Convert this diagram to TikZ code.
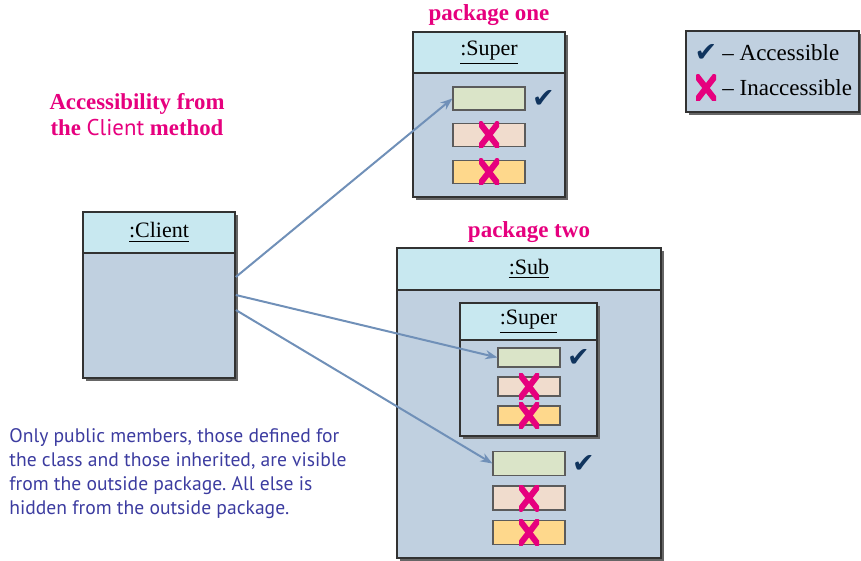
\documentclass[tikz,border=0pt]{standalone}
\usepackage{fontspec}
\setmainfont{Liberation Serif}
\newfontfamily\titleserif{Liberation Serif}
\newfontfamily\notesans{PT Sans}
\newfontfamily\symfont{DejaVu Sans}
\definecolor{umlhead}{RGB}{200,232,240}
\definecolor{umlbody}{RGB}{192,208,224}
\definecolor{umlframe}{RGB}{50,50,50}
\definecolor{mbgreen}{RGB}{218,228,200}
\definecolor{mbpink}{RGB}{240,220,205}
\definecolor{mborange}{RGB}{254,216,140}
\definecolor{accmagenta}{RGB}{230,0,126}
\definecolor{accnavy}{RGB}{16,52,94}
\definecolor{linkblue}{RGB}{112,144,184}
\definecolor{noteblue}{RGB}{60,60,160}
\usetikzlibrary{arrows.meta,positioning,shadows}
\frenchspacing

\begin{document}
\begin{tikzpicture}[x=0.5pt,y=-0.5pt,
  frame/.style={draw=umlframe,line width=0.8pt,fill=umlbody,inner sep=0pt,
    drop shadow={shadow xshift=1.5pt,shadow yshift=-1.5pt,fill=black!60,opacity=1}},
  header/.style={draw=umlframe,line width=0.8pt,fill=umlhead,inner sep=0pt,anchor=north,
    font=\fontsize{11}{13}\selectfont},
  member/.style={draw=umlframe!80,line width=0.6pt,inner sep=0pt},
  pkgtitle/.style={font=\titleserif\bfseries\fontsize{11.5}{13}\selectfont,text=accmagenta},
  link/.style={draw=linkblue,line width=1pt,-{Stealth[length=6pt,width=4.5pt]}},
  okmark/.style={font=\symfont\fontsize{13.5}{15}\selectfont,text=accnavy,inner sep=0pt},
  nogo/.style={minimum width=10pt,minimum height=13pt,inner sep=0pt,
    path picture={\draw[accmagenta,line width=3pt]
      (path picture bounding box.south west) -- (path picture bounding box.north east)
      (path picture bounding box.north west) -- (path picture bounding box.south east);}}
]
  \useasboundingbox (0,0) rectangle (861,561);

  % titles and note
  \node[pkgtitle] (pkgone) at (489,15) {package one};
  \node[pkgtitle] (pkgtwo) at (529,232) {package two};
  \node[pkgtitle,align=center,font=\titleserif\bfseries\fontsize{11.4}{13}\selectfont] (caption) at (137,115)
    {Accessibility from\\the {\notesans\mdseries Client} method};
  \node[anchor=north west,align=left,text=noteblue,inner sep=0pt,
    font=\notesans\fontsize{9.8}{12}\selectfont] (note) at (9,428)
    {Only public members, those defined for\\the class and those inherited, are visible\\from the outside package. All else is\\hidden from the outside package.};

  % client
  \node[frame,minimum width=76pt,minimum height=83pt] (client) at (159,295) {};
  \node[header,minimum width=76pt,minimum height=20.5pt] (clienthead) at (client.north) {\underline{:Client}};

  % package one
  \node[frame,minimum width=76pt,minimum height=82.5pt] (super) at (489,114.5) {};
  \node[header,minimum width=76pt,minimum height=20.5pt] (superhead) at (super.north) {\underline{:Super}};
  \node[member,fill=mbgreen,minimum width=36pt,minimum height=11.5pt] (s1a) at (489,98.5) {};
  \node[member,fill=mbpink,minimum width=36pt,minimum height=11.5pt] (s1b) at (489,135) {};
  \node[member,fill=mborange,minimum width=36pt,minimum height=11.5pt] (s1c) at (489,172) {};
  \node[okmark,right=3pt of s1a] (s1ok) {✔};
  \node[nogo] (s1bx) at (s1b) {};
  \node[nogo] (s1cx) at (s1c) {};

  % package two
  \node[frame,minimum width=132pt,minimum height=155pt] (sub) at (529,403) {};
  \node[header,minimum width=132pt,minimum height=21pt] (subhead) at (sub.north) {\underline{:Sub}};
  \node[frame,minimum width=68.5pt,minimum height=66.5pt] (inner) at (528.5,369.5) {};
  \node[header,minimum width=68.5pt,minimum height=18.5pt] (innerhead) at (inner.north) {\underline{:Super}};
  \node[member,fill=mbgreen,minimum width=31pt,minimum height=9.5pt] (t1a) at (529,357.5) {};
  \node[member,fill=mbpink,minimum width=31pt,minimum height=9.5pt] (t1b) at (529,386.5) {};
  \node[member,fill=mborange,minimum width=31pt,minimum height=9.5pt] (t1c) at (529,415.5) {};
  \node[okmark,right=3pt of t1a] (t1ok) {✔};
  \node[nogo] (t1bx) at (t1b) {};
  \node[nogo] (t1cx) at (t1c) {};
  \node[member,fill=mbgreen,minimum width=36pt,minimum height=12pt] (u1a) at (529,463.5) {};
  \node[member,fill=mbpink,minimum width=36pt,minimum height=12pt] (u1b) at (529,498) {};
  \node[member,fill=mborange,minimum width=36pt,minimum height=12pt] (u1c) at (529,532.5) {};
  \node[okmark,right=3pt of u1a] (u1ok) {✔};
  \node[nogo] (u1bx) at (u1b) {};
  \node[nogo] (u1cx) at (u1c) {};

  % legend
  \node[frame,minimum width=86.5pt,minimum height=40.5pt] (legend) at (772.5,71.5) {};
  \node[okmark] (legok) at (706,53) {✔};
  \node[nogo] (legno) at (706,88) {};
  \node[anchor=west,inner sep=0pt,font=\fontsize{11.5}{13}\selectfont] (legoktext) at (722,53) {– Accessible};
  \node[anchor=west,inner sep=0pt,font=\fontsize{11.5}{13}\selectfont] (legnotext) at (722,88) {– Inaccessible};

  % access links
  \draw[link] ([yshift=9pt]client.east) -- (s1a.west);
  \draw[link] (client.east) -- (t1a.west);
  \draw[link] ([yshift=-7.5pt]client.east) -- (u1a.west);
\end{tikzpicture}
\end{document}
